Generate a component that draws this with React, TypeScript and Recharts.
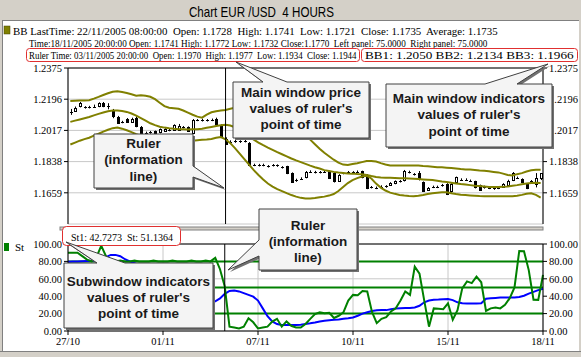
import React from 'react';
import {
  ComposedChart,
  Bar,
  Line,
  XAxis,
  YAxis,
  CartesianGrid,
  ReferenceLine,
} from 'recharts';

// one bar = 4 hours, a date label every 20 bars
const dateTicks = [0, 20, 40, 60, 80, 100];
const dateLabels = ['27/10', '01/11', '07/11', '10/11', '15/11', '18/11'];
const priceTicks = [1.148, 1.1659, 1.1838, 1.2017, 1.2196, 1.2375];
const stTicks = [0, 20, 40, 60, 80, 100];
const stLevels = [80, 50, 20];
const rulerBar = 33;

const opens = [
  1.2120, 1.2129, 1.2154, 1.2150, 1.2148, 1.2152, 1.2154, 1.2173, 1.2156, 1.2127,
  1.2096, 1.2064, 1.2081, 1.2064, 1.2087, 1.2035, 1.2002, 1.2004, 1.2012, 1.2007,
  1.2013, 1.2018, 1.2018, 1.2024, 1.2035, 1.2035, 1.2002, 1.2076, 1.2074, 1.2076,
  1.2074, 1.2081, 1.2047, 1.1970, 1.1950, 1.1953, 1.1955, 1.1952, 1.1944, 1.1818,
  1.1820, 1.1817, 1.1812, 1.1815, 1.1818, 1.1806, 1.1810, 1.1772, 1.1730, 1.1738,
  1.1747, 1.1780, 1.1778, 1.1776, 1.1780, 1.1782, 1.1772, 1.1730, 1.1770, 1.1776,
  1.1778, 1.1778, 1.1782, 1.1762, 1.1690, 1.1690, 1.1690, 1.1695, 1.1703, 1.1714,
  1.1726, 1.1728, 1.1780, 1.1766, 1.1770, 1.1720, 1.1676, 1.1692, 1.1694, 1.1700,
  1.1709, 1.1667, 1.1720, 1.1733, 1.1735, 1.1730, 1.1724, 1.1702, 1.1690, 1.1688,
  1.1686, 1.1685, 1.1694, 1.1705, 1.1730, 1.1745, 1.1738, 1.1709, 1.1724, 1.1712,
  1.1741,
];
const highs = [
  1.2140, 1.2154, 1.2180, 1.2156, 1.2158, 1.2165, 1.2178, 1.2180, 1.2173, 1.2140,
  1.2100, 1.2072, 1.2088, 1.2090, 1.2098, 1.2042, 1.2010, 1.2014, 1.2016, 1.2028,
  1.2030, 1.2026, 1.2052, 1.2054, 1.2042, 1.2040, 1.2082, 1.2082, 1.2084, 1.2082,
  1.2085, 1.2090, 1.2052, 1.1977, 1.1960, 1.1962, 1.1960, 1.1962, 1.1950, 1.1826,
  1.1825, 1.1826, 1.1818, 1.1824, 1.1822, 1.1812, 1.1814, 1.1776, 1.1740, 1.1748,
  1.1784, 1.1788, 1.1785, 1.1784, 1.1788, 1.1786, 1.1777, 1.1766, 1.1778, 1.1784,
  1.1783, 1.1787, 1.1786, 1.1766, 1.1698, 1.1695, 1.1702, 1.1703, 1.1720, 1.1730,
  1.1732, 1.1790, 1.1786, 1.1772, 1.1784, 1.1724, 1.1692, 1.1700, 1.1700, 1.1710,
  1.1714, 1.1714, 1.1752, 1.1742, 1.1742, 1.1735, 1.1728, 1.1706, 1.1700, 1.1694,
  1.1690, 1.1694, 1.1714, 1.1734, 1.1778, 1.1752, 1.1742, 1.1714, 1.1732, 1.1772,
  1.1772,
];
const lows = [
  1.2106, 1.2124, 1.2149, 1.2142, 1.2143, 1.2147, 1.2150, 1.2150, 1.2138, 1.2087,
  1.2058, 1.2058, 1.2060, 1.2060, 1.2035, 1.1995, 1.1993, 1.1998, 1.1990, 1.2000,
  1.2008, 1.2012, 1.2014, 1.2020, 1.2028, 1.2008, 1.1998, 1.2070, 1.2068, 1.2068,
  1.2070, 1.2050, 1.1975, 1.1934, 1.1942, 1.1946, 1.1945, 1.1948, 1.1812, 1.1812,
  1.1810, 1.1811, 1.1804, 1.1810, 1.1808, 1.1798, 1.1766, 1.1716, 1.1722, 1.1733,
  1.1742, 1.1774, 1.1770, 1.1770, 1.1774, 1.1738, 1.1718, 1.1726, 1.1765, 1.1770,
  1.1770, 1.1773, 1.1742, 1.1680, 1.1684, 1.1680, 1.1686, 1.1688, 1.1698, 1.1708,
  1.1718, 1.1724, 1.1770, 1.1758, 1.1730, 1.1665, 1.1670, 1.1686, 1.1686, 1.1694,
  1.1646, 1.1660, 1.1715, 1.1728, 1.1727, 1.1722, 1.1684, 1.1670, 1.1683, 1.1680,
  1.1676, 1.1680, 1.1690, 1.1700, 1.1726, 1.1738, 1.1716, 1.1680, 1.1718, 1.1690,
  1.1732,
];
const closes = [
  1.2122, 1.2148, 1.2173, 1.2148, 1.2150, 1.2154, 1.2173, 1.2156, 1.2154, 1.2096,
  1.2064, 1.2063, 1.2064, 1.2081, 1.2041, 1.2002, 1.2000, 1.2006, 1.1995, 1.2024,
  1.2024, 1.2020, 1.2047, 1.2045, 1.2033, 1.2012, 1.2076, 1.2074, 1.2076, 1.2074,
  1.2076, 1.2053, 1.1981, 1.1944, 1.1953, 1.1955, 1.1952, 1.1956, 1.1818, 1.1820,
  1.1817, 1.1819, 1.1810, 1.1818, 1.1815, 1.1804, 1.1772, 1.1722, 1.1733, 1.1742,
  1.1778, 1.1782, 1.1776, 1.1778, 1.1782, 1.1743, 1.1724, 1.1762, 1.1772, 1.1778,
  1.1776, 1.1781, 1.1747, 1.1686, 1.1693, 1.1687, 1.1695, 1.1697, 1.1714, 1.1726,
  1.1724, 1.1782, 1.1776, 1.1764, 1.1734, 1.1671, 1.1686, 1.1694, 1.1692, 1.1703,
  1.1652, 1.1709, 1.1747, 1.1735, 1.1733, 1.1728, 1.1690, 1.1676, 1.1693, 1.1686,
  1.1683, 1.1688, 1.1709, 1.1728, 1.1772, 1.1743, 1.1720, 1.1686, 1.1726, 1.1745,
  1.1770,
];

// Bollinger bands: BB2 upper, BB1 middle, BB3 lower
const bbUp = [
  1.2186, 1.2187, 1.2188, 1.2189, 1.2190, 1.2199, 1.2209, 1.2220, 1.2230, 1.2239,
  1.2242, 1.2237, 1.2232, 1.2224, 1.2216, 1.2219, 1.2216, 1.2210, 1.2196, 1.2176,
  1.2156, 1.2147, 1.2144, 1.2141, 1.2131, 1.2119, 1.2107, 1.2096, 1.2090, 1.2107,
  1.2121, 1.2127, 1.2131, 1.2134, 1.2141, 1.2147, 1.2150, 1.2153, 1.2156, 1.2153,
  1.2147, 1.2141, 1.2133, 1.2121, 1.2110, 1.2096, 1.2081, 1.2064, 1.2044, 1.2021,
  1.1995, 1.1964, 1.1938, 1.1912, 1.1889, 1.1869, 1.1849, 1.1832, 1.1821, 1.1818,
  1.1824, 1.1829, 1.1835, 1.1841, 1.1842, 1.1838, 1.1829, 1.1821, 1.1816, 1.1815,
  1.1815, 1.1816, 1.1816, 1.1816, 1.1815, 1.1813, 1.1812, 1.1809, 1.1806, 1.1805,
  1.1803, 1.1801, 1.1798, 1.1795, 1.1793, 1.1792, 1.1790, 1.1787, 1.1785, 1.1782,
  1.1779, 1.1776, 1.1769, 1.1761, 1.1758, 1.1766, 1.1772, 1.1781, 1.1788, 1.1791,
  1.1791,
];
const bbMid = [
  1.2066, 1.2073, 1.2080, 1.2087, 1.2094, 1.2103, 1.2112, 1.2120, 1.2127, 1.2131,
  1.2131, 1.2128, 1.2123, 1.2114, 1.2102, 1.2088, 1.2073, 1.2058, 1.2047, 1.2038,
  1.2033, 1.2029, 1.2026, 1.2024, 1.2023, 1.2022, 1.2023, 1.2024, 1.2027, 1.2032,
  1.2037, 1.2042, 1.2047, 1.2050, 1.2045, 1.2035, 1.2021, 1.2004, 1.1984, 1.1964,
  1.1947, 1.1932, 1.1918, 1.1905, 1.1892, 1.1880, 1.1868, 1.1856, 1.1845, 1.1835,
  1.1825, 1.1815, 1.1806, 1.1798, 1.1789, 1.1784, 1.1779, 1.1775, 1.1773, 1.1770,
  1.1769, 1.1767, 1.1766, 1.1761, 1.1755, 1.1750, 1.1747, 1.1746, 1.1745, 1.1744,
  1.1743, 1.1742, 1.1741, 1.1740, 1.1738, 1.1736, 1.1734, 1.1732, 1.1728, 1.1724,
  1.1721, 1.1717, 1.1713, 1.1709, 1.1706, 1.1703, 1.1700, 1.1698, 1.1695, 1.1692,
  1.1692, 1.1692, 1.1693, 1.1695, 1.1699, 1.1703, 1.1708, 1.1712, 1.1715, 1.1716,
  1.1715,
];
const bbLow = [
  1.1936, 1.1947, 1.1958, 1.1967, 1.1975, 1.1987, 1.1998, 1.2010, 1.2021, 1.2030,
  1.2033, 1.2027, 1.2018, 1.2007, 1.1995, 1.1987, 1.1975, 1.1964, 1.1955, 1.1950,
  1.1948, 1.1950, 1.1951, 1.1953, 1.1954, 1.1955, 1.1958, 1.1961, 1.1963, 1.1965,
  1.1968, 1.1975, 1.1979, 1.1966, 1.1944, 1.1915, 1.1884, 1.1852, 1.1821, 1.1789,
  1.1761, 1.1735, 1.1712, 1.1695, 1.1680, 1.1669, 1.1657, 1.1646, 1.1637, 1.1630,
  1.1626, 1.1626, 1.1629, 1.1633, 1.1637, 1.1643, 1.1652, 1.1669, 1.1692, 1.1715,
  1.1732, 1.1743, 1.1752, 1.1757, 1.1741, 1.1712, 1.1689, 1.1672, 1.1660, 1.1653,
  1.1647, 1.1643, 1.1640, 1.1639, 1.1642, 1.1646, 1.1652, 1.1656, 1.1659, 1.1662,
  1.1662, 1.1657, 1.1652, 1.1648, 1.1646, 1.1644, 1.1642, 1.1640, 1.1639, 1.1639,
  1.1639, 1.1639, 1.1639, 1.1639, 1.1639, 1.1642, 1.1647, 1.1653, 1.1656, 1.1647,
  1.1632,
];

// stochastic subwindow: St (green) and St1 (blue)
const stFast = [
  90, 90, 90, 86, 82, 80, 85, 98, 86, 80,
  80, 81, 80, 80, 81, 80, 80, 80, 81, 80,
  80, 80, 81, 80, 80, 80, 81, 80, 80, 81,
  80, 84, 71, 51.1364, 5, 4, 3, 5, 14.6, 10,
  3, 4, 5, 10.8, 14, 5, 11, 6, 4, 4,
  8, 14, 19.5, 21.6, 20.5, 21, 15, 17.5, 21.6, 35,
  41.5, 41, 46, 45.5, 22, 9, 14, 16, 22.4, 26,
  35, 45.4, 41.5, 74, 66, 35, 5, 26, 25.5, 25,
  31.8, 13, 24, 49, 57, 55, 62.5, 56, 23, 26,
  27, 26, 30, 37.7, 50, 92, 91.6, 70, 36, 35.8,
  64.5,
];
const stSlow = [
  79.5, 80, 80, 80.2, 80.5, 80.7, 81, 82, 85, 87.5,
  87.5, 86, 82.5, 80, 78, 76, 73, 71, 67, 64,
  62, 58, 55, 53, 49, 46, 44, 40, 37, 35,
  33, 34, 37.5, 42.7273, 46, 46.5, 45.5, 43.5, 41.5, 39.5,
  35, 26, 17, 11, 8, 7, 7, 7, 7, 7.2,
  8, 8.8, 9.8, 11, 11.8, 12.3, 12.8, 13.3, 14, 14.6,
  15.5, 17.5, 20, 21.5, 23, 23.8, 24, 24, 25, 26,
  26.2, 26.5, 26.5, 27, 29, 33, 35, 36, 36.2, 36.6,
  36.8, 35.5, 33, 31.8, 31.6, 31.6, 31.6, 32, 37, 37.6,
  38, 38.5, 38.5, 38.5, 38.5, 39, 40.5, 43, 45, 47,
  48.5,
];

const data = opens.map((open, i) => ({
  i,
  open,
  high: highs[i],
  low: lows[i],
  close: closes[i],
  bb1: bbMid[i],
  bb2: bbUp[i],
  bb3: bbLow[i],
  st: stFast[i],
  st1: stSlow[i],
}));

const SERIF = "'Liberation Serif', 'Times New Roman', serif";
const SANS = "'Liberation Sans', Arial, sans-serif";
const OLIVE = '#808000';
const GRID = '#c8c8c8';
const tickStyle = { fontSize: 10.5, fontFamily: SERIF, fill: '#000' };

// candle drawn from the [low, high] range bar
const Candle = (props: any) => {
  const { x, y, width, height, payload } = props;
  if (x == null || !payload) return null;
  const top = Math.min(y, y + height);
  const h = Math.abs(height);
  const { open, close, high, low } = payload;
  const span = high - low || 1;
  const py = (v: number) => top + ((high - v) / span) * h;
  const cx = Math.round(x + width / 2) + 0.5;
  const yo = py(open);
  const yc = py(close);
  const bTop = Math.min(yo, yc);
  const bBot = Math.max(yo, yc);
  const up = close >= open;
  return (
    <g>
      <line x1={cx} x2={cx} y1={top} y2={top + h} stroke="#000" strokeWidth={1} />
      {bBot - bTop < 1.6 ? (
        <line
          x1={cx - 1.5}
          x2={cx + 1.5}
          y1={Math.round((bTop + bBot) / 2) + 0.5}
          y2={Math.round((bTop + bBot) / 2) + 0.5}
          stroke="#000"
          strokeWidth={1}
        />
      ) : (
        <rect
          x={cx - 1}
          y={Math.round(bTop) + 0.5}
          width={2}
          height={Math.max(1, Math.round(bBot - bTop))}
          fill={up ? '#fff' : '#000'}
          stroke="#000"
          strokeWidth={1}
        />
      )}
    </g>
  );
};

// text squeezed / stretched horizontally to a given width
const FitText = ({ x, y, w, size, family, children }: any) => {
  const ref = React.useRef<SVGTextElement>(null);
  const [sx, setSx] = React.useState(1);
  React.useLayoutEffect(() => {
    if (ref.current) {
      const n = ref.current.getComputedTextLength();
      if (n > 0) setSx(w / n);
    }
  }, [w]);
  return (
    <text
      ref={ref}
      x={0}
      y={0}
      transform={`translate(${x},${y}) scale(${sx},1)`}
      fontFamily={family}
      fontSize={size}
      fill="#000"
      xmlSpace="preserve"
      style={{ whiteSpace: 'pre' }}
    >
      {children}
    </text>
  );
};

const infoLines = [
  { x: 13, y: 34.5, w: 485, t: 'BB LastTime: 22/11/2005 08:00:00  Open: 1.1728  High: 1.1741  Low: 1.1721  Close: 1.1735  Average: 1.1735' },
  { x: 29, y: 46.5, w: 459, t: 'Time:18/11/2005 20:00:00 Open: 1.1741 High: 1.1772 Low: 1.1732 Close:1.1770  Left panel: 75.0000  Right panel: 75.0000' },
  { x: 29, y: 59, w: 328, t: 'Ruler Time: 03/11/2005 20:00:00  Open: 1.1970  High: 1.1977  Low: 1.1934  Close: 1.1944' },
  { x: 365, y: 59, w: 209, t: 'BB1: 1.2050 BB2: 1.2134 BB3: 1.1966' },
];

const callouts = [
  {
    pts: '233,82 263,82 236,62 287,82 369,82 369,138 233,138',
    cx: 301,
    y0: 91.7,
    lines: ['Main window price', "values of ruler's", 'point of time'],
  },
  {
    pts: '386,84 485,84 548,64 517,84 552,84 552,147 386,147',
    cx: 469,
    y0: 98.3,
    lines: ['Main window indicators', "values of ruler's", 'point of time'],
  },
  {
    pts: '94,134 193,134 193,166 224,188 193,177 193,188 94,188',
    cx: 143.5,
    y0: 143.3,
    lines: ['Ruler', '(information', 'line)'],
  },
  {
    pts: '259,209 357,209 357,270 259,270 259,256 228,270 259,240',
    cx: 308,
    y0: 225,
    lines: ['Ruler', '(information', 'line)'],
  },
  {
    pts: '64,263 97,263 66,242 125,263 213,263 213,328 64,328',
    cx: 138.5,
    y0: 280.7,
    lines: ['Subwindow indicators', "values of ruler's", 'point of time'],
  },
];

export default function App() {
  return (
    <div
      style={{
        position: 'absolute',
        left: 0,
        top: 0,
        width: 581,
        height: 357,
        background: '#d4d0c8',
        overflow: 'hidden',
      }}
    >
      <div
        style={{
          position: 'absolute',
          left: 2,
          top: 20,
          width: 577,
          height: 331,
          background: '#fff',
          borderTop: '1px solid #808080',
          borderLeft: '1px solid #808080',
          boxSizing: 'border-box',
        }}
      />

      {/* main window: candles + bollinger bands */}
      <div style={{ position: 'absolute', left: 0, top: 0 }}>
        <ComposedChart
          width={581}
          height={225}
          data={data}
          margin={{ top: 68, right: 0, bottom: 1, left: 0 }}
        >
          <CartesianGrid stroke={GRID} />
          <XAxis
            dataKey="i"
            type="category"
            ticks={dateTicks}
            interval={0}
            height={0}
            tick={false}
            tickLine={false}
            axisLine={false}
          />
          <YAxis
            domain={[1.148, 1.2375]}
            ticks={priceTicks}
            tickFormatter={(v: number) => v.toFixed(4)}
            width={68}
            tickSize={4}
            tickMargin={2}
            tick={tickStyle}
            axisLine={{ stroke: '#000' }}
            tickLine={{ stroke: '#000' }}
            allowDataOverflow
          />
          <YAxis
            yAxisId="r"
            orientation="right"
            domain={[1.148, 1.2375]}
            ticks={priceTicks}
            tickFormatter={(v: number) => v.toFixed(4)}
            width={38}
            tickSize={4}
            tickMargin={2}
            tick={tickStyle}
            axisLine={{ stroke: '#000' }}
            tickLine={{ stroke: '#000' }}
            allowDataOverflow
          />
          <ReferenceLine y={1.2375} stroke="#000" />
          <Bar
            dataKey={(d: any) => [d.low, d.high]}
            barSize={3}
            shape={Candle}
            isAnimationActive={false}
          />
          <Line dataKey="bb2" type="linear" stroke={OLIVE} strokeWidth={2} dot={false} isAnimationActive={false} />
          <Line dataKey="bb1" type="linear" stroke={OLIVE} strokeWidth={2} dot={false} isAnimationActive={false} />
          <Line yAxisId="r" dataKey="bb3" type="linear" stroke={OLIVE} strokeWidth={2} dot={false} isAnimationActive={false} />
          <ReferenceLine x={rulerBar} stroke="#000" />
        </ComposedChart>
      </div>

      {/* subwindow: stochastic */}
      <div style={{ position: 'absolute', left: 0, top: 232 }}>
        <ComposedChart
          width={581}
          height={121}
          data={data}
          margin={{ top: 12, right: 0, bottom: 0, left: 0 }}
        >
          <CartesianGrid stroke={GRID} />
          <XAxis
            dataKey="i"
            type="category"
            ticks={dateTicks}
            interval={0}
            tickFormatter={(v: number) => dateLabels[dateTicks.indexOf(v)]}
            height={22}
            tickSize={4}
            tickMargin={3}
            tick={tickStyle}
            axisLine={{ stroke: '#000' }}
            tickLine={{ stroke: '#000' }}
          />
          <YAxis
            domain={[0, 100]}
            ticks={stTicks}
            tickFormatter={(v: number) => v.toFixed(2)}
            width={68}
            tickSize={4}
            tickMargin={2}
            tick={tickStyle}
            axisLine={{ stroke: '#000' }}
            tickLine={{ stroke: '#000' }}
          />
          <YAxis
            yAxisId="r"
            orientation="right"
            domain={[0, 100]}
            ticks={stTicks}
            tickFormatter={(v: number) => v.toFixed(2)}
            width={38}
            tickSize={4}
            tickMargin={2}
            tick={tickStyle}
            axisLine={{ stroke: '#000' }}
            tickLine={{ stroke: '#000' }}
          />
          {stLevels.map((v) => (
            <ReferenceLine key={v} y={v} stroke="#008000" strokeWidth={2} />
          ))}
          <ReferenceLine y={100} stroke="#000" />
          <Line dataKey="st1" type="linear" stroke="#0000ff" strokeWidth={2} dot={false} isAnimationActive={false} />
          <Line yAxisId="r" dataKey="st" type="linear" stroke="#008000" strokeWidth={2} dot={false} isAnimationActive={false} />
          <ReferenceLine x={rulerBar} stroke="#000" />
        </ComposedChart>
      </div>

      {/* header texts, info boxes and callouts */}
      <svg
        width={581}
        height={357}
        style={{ position: 'absolute', left: 0, top: 0, pointerEvents: 'none' }}
      >
        <FitText x={189} y={16.5} w={145} size={14} family={SANS}>
          {'Chart EUR /USD  4 HOURS'}
        </FitText>
        <line x1={0} x2={581} y1={351.5} y2={351.5} stroke="#808080" />

        <rect x={4} y={26} width={6} height={8} fill={OLIVE} stroke="#404000" strokeWidth={0.5} />
        {infoLines.map((l, k) => (
          <FitText key={k} x={l.x} y={l.y} w={l.w} size={11} family={SERIF}>
            {l.t}
          </FitText>
        ))}
        <rect x={26.5} y={48.5} width={333} height={13} rx={3} fill="none" stroke="#e03030" />
        <rect x={361.5} y={48.5} width={216} height={13} rx={3} fill="none" stroke="#e03030" />

        <rect x={60} y={227} width={483} height={3} fill="#d4d0c8" stroke="#808080" strokeWidth={1} />

        <rect x={62.5} y={226.5} width={118} height={19} rx={4} fill="#fff" stroke="#e03030" />
        <FitText x={71} y={240.5} w={102} size={11} family={SERIF}>
          {'St1: 42.7273  St: 51.1364'}
        </FitText>

        <rect x={4} y={243} width={5} height={8} fill="#008000" />
        <text x={15} y={251} fontFamily={SERIF} fontSize={11} fill="#000">
          St
        </text>

        {callouts.map((c, k) => (
          <g key={k}>
            <polygon points={c.pts} fill="#707070" transform="translate(2,2)" />
            <polygon points={c.pts} fill="#f4f4f4" stroke="#404040" strokeWidth={1} />
            {c.lines.map((t, j) => (
              <text
                key={j}
                x={c.cx}
                y={c.y0 + j * 16.3 + 4.8}
                textAnchor="middle"
                fontFamily={SANS}
                fontWeight="bold"
                fontSize={13.5}
                fill="#1a1a1a"
              >
                {t}
              </text>
            ))}
          </g>
        ))}
      </svg>
    </div>
  );
}
